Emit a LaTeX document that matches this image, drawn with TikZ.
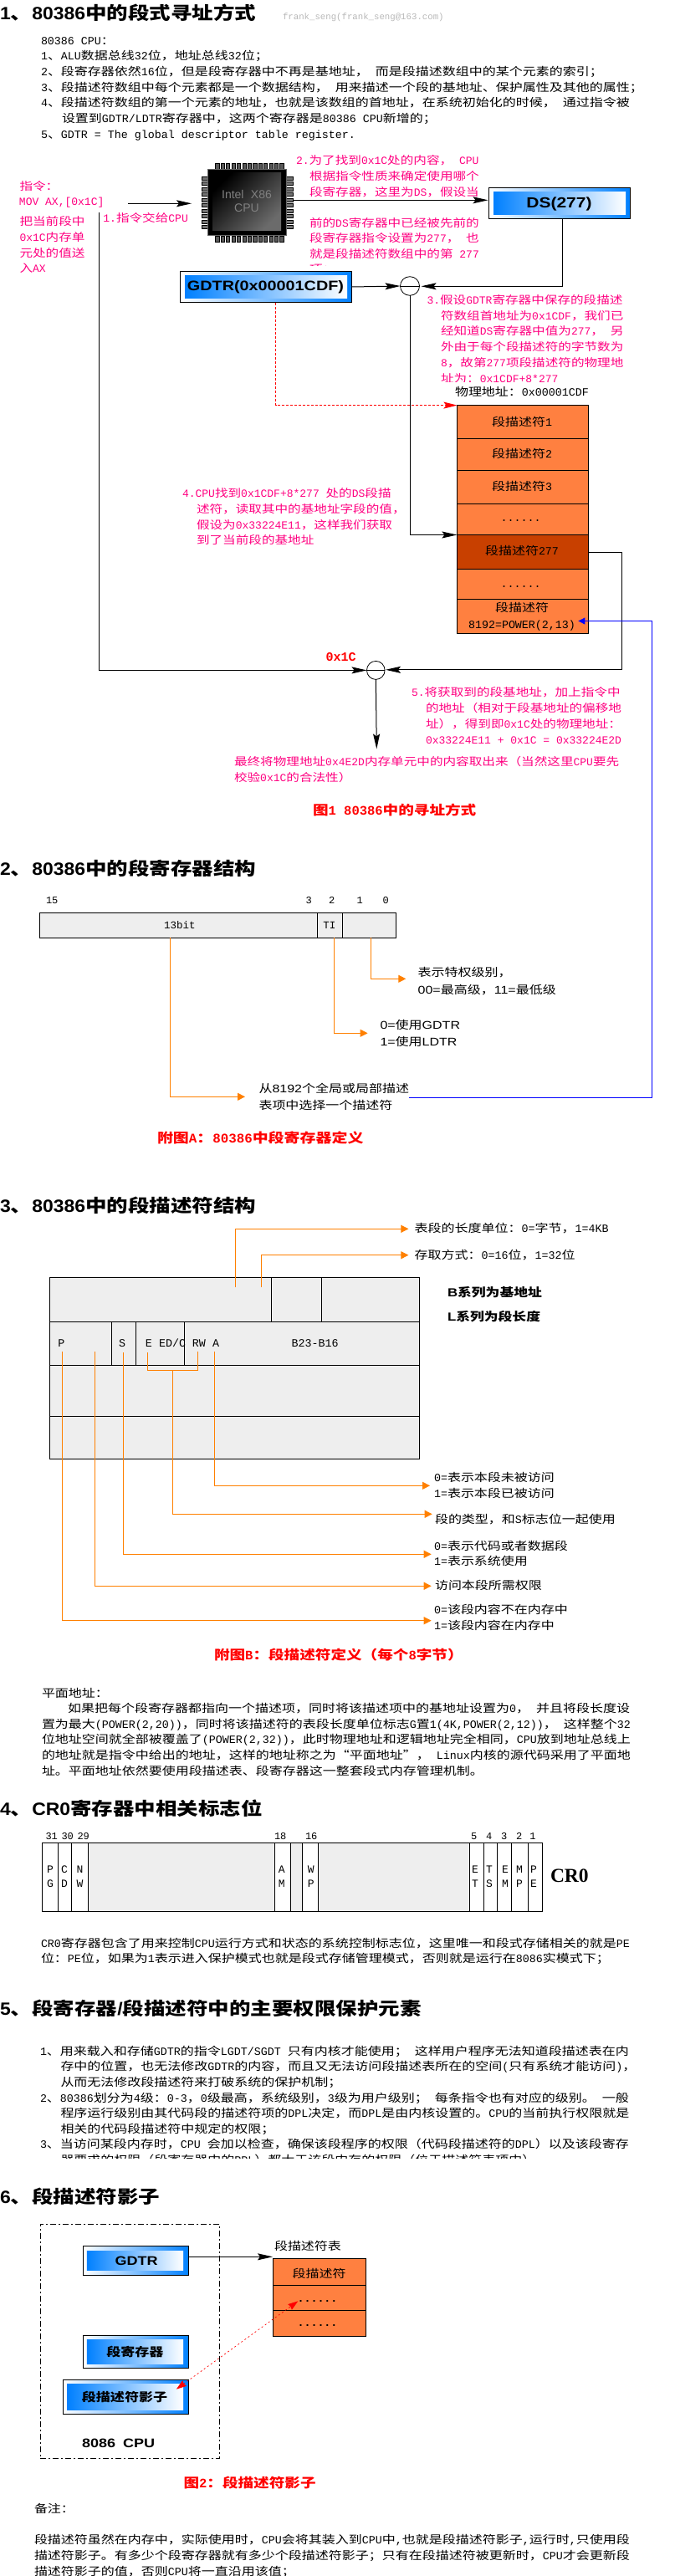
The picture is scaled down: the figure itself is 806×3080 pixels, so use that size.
\documentclass[tikz,border=0pt]{standalone}
\usepackage{fontspec}
\usepackage{graphicx}
\usetikzlibrary{arrows.meta,shapes.geometric}
\newfontfamily\cjkf[FakeStretch=1.2]{Noto Sans CJK SC}
\newfontfamily\monof{Liberation Mono}
\newfontfamily\arialf[FakeStretch=1.2]{Liberation Sans}
\newfontfamily\arialplain{Liberation Sans}
\newfontfamily\headlat[FakeStretch=1.08]{Liberation Sans}
\newfontfamily\timesf{Liberation Serif}
\let\latinf\monof
\newcount\cc
\cc="3000 \loop\ifnum\cc<"A000 \XeTeXcharclass\cc=9 \advance\cc 1 \repeat
\cc="FF00 \loop\ifnum\cc<"FFF0 \XeTeXcharclass\cc=9 \advance\cc 1 \repeat
\XeTeXcharclass"201C=9 \XeTeXcharclass"201D=9
\XeTeXinterchartoks 0 9={\cjkf}
\XeTeXinterchartoks 9 0={\latinf}
\XeTeXinterchartoks 4095 9={\cjkf}
\XeTeXinterchartoks 4095 0={\latinf}
\XeTeXinterchartokenstate=1
\newcommand\tf[1]{\fontsize{#1}{#1}\selectfont\spaceskip=0.6\dimexpr#1pt\relax\xspaceskip=\spaceskip}
\definecolor{pinkt}{HTML}{FF0080}
\definecolor{org}{HTML}{FF8040}
\definecolor{orgd}{HTML}{C84000}
\definecolor{orl}{HTML}{FF8000}
\definecolor{gry}{HTML}{EEEEEE}
\definecolor{blu}{HTML}{0080FF}
\tikzset{
 base/.style={anchor=base west,inner sep=0pt,outer sep=0pt},
 body/.style={base,font=\tf{13.33},text=black},
 hd/.style={base,font=\let\latinf\headlat\bfseries\tf{21.25},text=black},
 pk/.style={base,font=\tf{13},text=pinkt},
 captxt/.style={base,font=\bfseries\tf{15.5},text=red},
 ar/.style={base,font=\let\latinf\arialf\tf{13.33},text=black},
 ctr/.style={anchor=base},
 boxn/.style={draw=black,line width=1pt,inner sep=0pt,outer sep=0pt,anchor=north west},
 blk/.style={draw=black,line width=1pt,-{Stealth[length=18pt,width=8pt,inset=3pt]}},
 redd/.style={draw=red,line width=.9pt,dash pattern=on 3pt off 2pt,-{Stealth[length=16pt,width=8pt,inset=3pt,fill=red]}},
 ora/.style={draw=orl,line width=1pt,-{Triangle[length=9pt,width=9pt]}},
 orl0/.style={draw=orl,line width=1pt},
 blue0/.style={draw=blue,line width=.9pt,-{Triangle[length=8pt,width=8pt]}},
 circ/.style={draw=black,ellipse,line width=.8pt,inner sep=0pt,outer sep=0pt,fill=white},
}
% box by corners
\newcommand\bx[7]{\pgfmathsetmacro\bw{#4-#2}\pgfmathsetmacro\bh{#5-#3}%
 \node[boxn,minimum width=\bw pt,minimum height=\bh pt,#6] (#1) at (#2,#3) {#7};}
% gradient register box: name, outer corners, inner corners, font, text
\newcommand\gb[9]{\bx{#1}{#2}{#3}{#4}{#5}{left color=white,right color=blu}{}%
 \gbb{#1}{#6}{#7}{#8}{#9}}
\newcommand\gbb[5]{\pgfmathsetmacro\bw{#4-#2}\pgfmathsetmacro\bh{#5-#3}%
 \node[inner sep=0pt,outer sep=0pt,anchor=north west,left color=blu,right color=white,minimum width=\bw pt,minimum height=\bh pt] (#1i) at (#2,#3) {};}
\begin{document}
\begin{tikzpicture}[x=1pt,y=-1pt]
\useasboundingbox (0,0) rectangle (806,3080);
%% ---------- section 1 ----------
\node[hd] (h1) at (0,24) {1、80386中的段式寻址方式};
\node[base,font=\tf{10.7},text=black!28] (auth) at (338,23.5) {frank\_seng(frank\_seng@163.com)};
\node[body] (a0) at (49,53.5) {80386 CPU：};
\node[body] (a1) at (49,72) {1、ALU数据总线32位，地址总线32位；};
\node[body] (a2) at (49,90.7) {2、段寄存器依然16位，但是段寄存器中不再是基地址， 而是段描述数组中的某个元素的索引；};
\node[body] (a3) at (49,109.4) {3、段描述符数组中每个元素都是一个数据结构， 用来描述一个段的基地址、保护属性及其他的属性；};
\node[body] (a4) at (49,128) {4、段描述符数组的第一个元素的地址，也就是该数组的首地址，在系统初始化的时候， 通过指令被};
\node[body] (a5) at (74,146.8) {设置到GDTR/LDTR寄存器中，这两个寄存器是80386 CPU新增的；};
\node[body] (a6) at (49,165.5) {5、GDTR = The global descriptor table register.};
%% pink texts left
\node[pk] (p1) at (23.5,227) {指令：};
\node[pk] (p2) at (23,245) {MOV AX,[0x1C]};
\node[pk] (p3) at (23.5,269) {把当前段中};
\node[pk] (p4) at (23.5,288) {0x1C内存单};
\node[pk] (p5) at (23.5,307) {元处的值送};
\node[pk] (p6) at (23.5,325) {入AX};
\node[pk] (p7) at (123.4,265) {1.指令交给CPU};
%% CPU chip
\foreach \i in {0,...,12} {
 \draw[black,fill=black!65,line width=.5pt] ({257.7+\i*6.42},195) rectangle ({257.7+\i*6.42+4.2},202.3);
 \draw[black,fill=black!65,line width=.5pt] ({257.7+\i*6.42},282) rectangle ({257.7+\i*6.42+4.2},289.3);
}
\foreach \i in {0,...,9} {
 \draw[black,fill=black!55,line width=.5pt] (241,{211+\i*6.5}) rectangle (248.3,{211+\i*6.5+4.2});
 \draw[black,fill=black!55,line width=.5pt] (342.5,{211+\i*6.5}) rectangle (350.7,{211+\i*6.5+4.2});
}
\node[inner sep=0pt,outer sep=0pt,anchor=north west,minimum width=94pt,minimum height=79.5pt,fill=black,draw=black!60,line width=1pt] (cpu) at (248.3,202.3) {};
\path[left color=black,right color=black!58,shading angle=45] (254,207) rectangle (336,275);
\node[anchor=base,inner sep=0pt,font=\let\latinf\arialplain\tf{14},text=black!50] (cpu1) at (295,237.3) {Intel X86};
\node[anchor=base,inner sep=0pt,font=\let\latinf\arialplain\tf{14},text=black!50] (cpu2) at (295,253.3) {CPU};
\coordinate (cin) at (153,243.3);
\coordinate (cinb) at (229,243.3);
\draw[blk] (cin) -- (cinb);
%% DS, GDTR
\gb{ds}{584.3}{224.3}{753.3}{261.7}{590}{229}{748}{256}
\node[anchor=base,inner sep=0pt,font=\let\latinf\arialf\bfseries\tf{17.5}] (dst) at (668.5,248) {DS(277)};
\gb{gdtr}{215.4}{324.3}{420.5}{361.7}{221}{329}{415}{356}
\node[anchor=base,inner sep=0pt,font=\let\latinf\arialf\bfseries\tf{16.5}] (gdtrt) at (317.5,347.3) {GDTR(0x00001CDF)};
\coordinate (cout) at (350.7,239.3);
\coordinate (dsw) at (583.5,239.3);
\draw[blk] (cout) -- (dsw);
\node[circ,minimum width=23pt,minimum height=22.6pt] (c1) at (490,342) {};
\draw[black,line width=.8pt] (c1.west) -- (c1.east);
\draw[blk] (gdtr.east) -- (c1.west);
\coordinate (dsb) at (672.5,261.7);
\coordinate (c1r) at (503.5,342.3);
\draw[blk] (dsb) |- (c1r);
%% pink text 2
\node[pk] (p8) at (354,196.6) {2.为了找到0x1C处的内容， CPU};
\node[pk] (p9) at (370,215.3) {根据指令性质来确定使用哪个};
\node[pk] (p10) at (370,234) {段寄存器，这里为DS，假设当};
\node[pk] (p11) at (370,271.7) {前的DS寄存器中已经被先前的};
\node[pk] (p12) at (370,289.5) {段寄存器指令设置为277， 也};
\node[pk] (p13) at (370,308) {就是段描述符数组中的第 277};
\begin{scope}
\clip (360,312) rectangle (580,317);
\node[pk] (p14) at (370,326.7) {项；};
\end{scope}
%% pink text 3
\node[pk] (p15) at (510.5,363.3) {3.假设GDTR寄存器中保存的段描述};
\node[pk] (p16) at (527,382) {符数组首地址为0x1CDF，我们已};
\node[pk] (p17) at (527,400) {经知道DS寄存器中值为277， 另};
\node[pk] (p18) at (527,419) {外由于每个段描述符的字节数为};
\node[pk] (p19) at (527,438) {8，故第277项段描述符的物理地};
\begin{scope}
\clip (520,444) rectangle (760,456.6);
\node[pk] (p20) at (527,457) {址为：0x1CDF+8*277};
\end{scope}
\node[body] (phys) at (544,473.9) {物理地址：0x00001CDF};
%% table
\bx{r1}{546.4}{484.6}{703.7}{524.4}{fill=org}{}
\bx{r2}{546.4}{524.4}{703.7}{562.2}{fill=org}{}
\bx{r3}{546.4}{562.2}{703.7}{602.4}{fill=org}{}
\bx{r4}{546.4}{602.4}{703.7}{639.5}{fill=org}{}
\bx{r5}{546.4}{639.5}{703.7}{680.5}{fill=orgd}{}
\bx{r6}{546.4}{680.5}{703.7}{716.5}{fill=org}{}
\bx{r7}{546.4}{716.5}{703.7}{757.4}{fill=org}{}
\node[body,ctr] (rt1) at (624,509) {段描述符1};
\node[body,ctr] (rt2) at (624,547.3) {段描述符2};
\node[body,ctr] (rt3) at (624,586) {段描述符3};
\node[body,ctr] (rt4) at (622.5,623.8) {......};
\node[body,ctr] (rt5) at (624,663) {段描述符277};
\node[body,ctr] (rt6) at (622.5,702) {......};
\node[body,ctr] (rt7) at (624,731.8) {段描述符};
\node[body,ctr] (rt8) at (624,751) {8192=POWER(2,13)};
%% connectors to table
\coordinate (gs) at (329.5,361.7);
\draw[redd] (gs) |- (r1.north west);
\draw[blk] (c1.south) |- (r5.north west);
%% pink text 4
\node[pk] (p21) at (218,594.4) {4.CPU找到0x1CDF+8*277 处的DS段描};
\node[pk] (p22) at (235,613.5) {述符，读取其中的基地址字段的值，};
\node[pk] (p23) at (235,632) {假设为0x33224E11，这样我们获取};
\node[pk] (p24) at (235,650.6) {到了当前段的基地址};
%% adder 2
\node[circ,minimum width=21.6pt,minimum height=22pt] (c2) at (449.3,801.4) {};
\draw[black,line width=.8pt] (c2.west) -- (c2.east);
\coordinate (ll) at (118.7,254);
\coordinate (rb) at (743.4,800.8);
\draw[blk] (ll) |- (c2.west);
\draw[draw=black,line width=1pt] (r5.east) -| (rb);
\coordinate (c2r) at (461,800.8);
\draw[blk] (rb) -- (c2r);
\coordinate (cdown) at (450.3,895.5);
\draw[blk] (c2.south) -- (cdown);
\node[base,font=\bfseries\tf{15},text=red] (x1c) at (389.7,790.3) {0x1C};
%% pink text 5
\node[pk] (p25) at (492,832.4) {5.将获取到的段基地址，加上指令中};
\node[pk] (p26) at (509,851.5) {的地址（相对于段基地址的偏移地};
\node[pk] (p27) at (509,870) {址），得到即0x1C处的物理地址：};
\node[pk] (p28) at (509,889) {0x33224E11 + 0x1C = 0x33224E2D};
\node[pk] (p29) at (280,915.8) {最终将物理地址0x4E2D内存单元中的内容取出来（当然这里CPU要先};
\node[pk] (p30) at (280,934) {校验0x1C的合法性）};
\node[captxt] (cap1) at (374,974) {图1 80386中的寻址方式};
%% ---------- section 2 ----------
\node[hd] (h2) at (0,1046) {2、80386中的段寄存器结构};
\tikzset{bit/.style={base,font=\tf{12},text=black}}
\node[bit] (b15) at (55,1080) {15};
\node[bit] (b3) at (365.5,1080) {3};
\node[bit] (b2) at (393,1080) {2};
\node[bit] (b1) at (426.7,1080) {1};
\node[bit] (b0) at (457.6,1080) {0};
\bx{reg}{47.3}{1091.3}{473.5}{1121.3}{fill=gry}{}
\draw[black,line width=.8pt] (379.4,1091.3) -- (379.4,1121.3);
\draw[black,line width=.8pt] (409.7,1091.3) -- (409.7,1121.3);
\node[body,ctr,font=\tf{12.5}] (t13) at (215,1110.7) {13bit};
\node[body,ctr,font=\tf{12.5}] (tti) at (393.8,1110.7) {TI};
\coordinate (oa) at (443.7,1121.3); \coordinate (oat) at (485.3,1170.3);
\draw[ora] (oa) |- (oat);
\coordinate (ob) at (399.5,1121.3); \coordinate (obt) at (439.6,1235.3);
\draw[ora] (ob) |- (obt);
\coordinate (oc) at (203.6,1121.3); \coordinate (oct) at (293,1311.3);
\draw[ora] (oc) |- (oct);
\node[ar] (q1) at (499.7,1167.7) {表示特权级别，};
\node[ar] (q2) at (499.7,1188.3) {00=最高级，11=最低级};
\node[ar] (q3) at (454.5,1230) {0=使用GDTR};
\node[ar] (q4) at (454.5,1250) {1=使用LDTR};
\node[ar] (q5) at (309.5,1306) {从8192个全局或局部描述};
\node[ar] (q6) at (309.5,1326) {表项中选择一个描述符};
\coordinate (bs) at (489,1312.3);
\coordinate (bc) at (779.5,1312.3);
\coordinate (bt) at (691.4,742.5);
\draw[blue0] (bs) -- (bc) |- (bt);
\node[captxt,font=\bfseries\tf{15.8}] (cap2) at (188,1366.7) {附图A：80386中段寄存器定义};
%% ---------- section 3 ----------
\node[hd] (h3) at (0,1449) {3、80386中的段描述符结构};
\bx{d1}{59.6}{1527.3}{501.8}{1580.3}{fill=gry}{}
\bx{d2}{59.6}{1580.3}{501.8}{1632.3}{fill=gry}{}
\bx{d3}{59.6}{1632.3}{501.8}{1693.3}{fill=gry}{}
\bx{d4}{59.6}{1693.3}{501.8}{1744.3}{fill=gry}{}
\foreach \x in {324.4,384.6} \draw[black,line width=.8pt] (\x,1527.3) -- (\x,1580.3);
\foreach \x in {133.7,162.5,220.5} \draw[black,line width=.8pt] (\x,1580.3) -- (\x,1632.3);
\node[body] (dl1) at (69.4,1610) {P};
\node[body] (dl2) at (142,1610) {S};
\node[body] (dl3) at (173.8,1610) {E};
\node[body] (dl4) at (190.2,1610) {ED/C};
\node[body] (dl5) at (229.8,1610) {RW};
\node[body] (dl6) at (254,1610) {A};
\node[body] (dl7) at (348.6,1610) {B23-B16};
\coordinate (e1) at (281.8,1539.3); \coordinate (e1t) at (488.4,1469.3);
\draw[ora] (e1) |- (e1t);
\coordinate (e2) at (312.6,1539.3); \coordinate (e2t) at (488.4,1500.7);
\draw[ora] (e2) |- (e2t);
\node[body] (f1) at (495.6,1473.3) {表段的长度单位：0=字节，1=4KB};
\node[body] (f2) at (495.6,1505) {存取方式：0=16位，1=32位};
\node[ar,font=\let\latinf\arialf\bfseries\tf{14}] (f3) at (535,1550) {B系列为基地址};
\node[ar,font=\let\latinf\arialf\bfseries\tf{14}] (f4) at (535,1579) {L系列为段长度};
\coordinate (g1) at (256.6,1616); \coordinate (g1t) at (514,1776.3);
\draw[ora] (g1) |- (g1t);
\coordinate (g2a) at (176.3,1617); \coordinate (g2b) at (236.5,1616); \coordinate (g2c) at (206.7,1638.3); \coordinate (g2t) at (516.7,1810.3);
\draw[orl0] (g2a) |- (g2c) -| (g2b);
\draw[ora] (g2c) |- (g2t);
\coordinate (g3) at (147.6,1617); \coordinate (g3t) at (515.7,1858.3);
\draw[ora] (g3) |- (g3t);
\coordinate (g4) at (113.6,1616); \coordinate (g4t) at (515.7,1896.3);
\draw[ora] (g4) |- (g4t);
\coordinate (g5) at (74.5,1616); \coordinate (g5t) at (515.7,1937.7);
\draw[ora] (g5) |- (g5t);
\node[body] (k1) at (519,1771.7) {0=表示本段未被访问};
\node[body] (k2) at (519,1790.7) {1=表示本段已被访问};
\node[body] (k3) at (520,1821.7) {段的类型，和S标志位一起使用};
\node[body] (k4) at (519,1853.3) {0=表示代码或者数据段};
\node[body] (k5) at (519,1871.7) {1=表示系统使用};
\node[body] (k6) at (520,1900) {访问本段所需权限};
\node[body] (k7) at (519,1929.3) {0=该段内容不在内存中};
\node[body] (k8) at (519,1948.3) {1=该段内容在内存中};
\node[captxt] (cap3) at (256,1984) {附图B：段描述符定义（每个8字节）};
\node[body] (l1) at (50,2029) {平面地址：};
\node[body] (l2) at (81.2,2047.3) {如果把每个段寄存器都指向一个描述项，同时将该描述项中的基地址设置为0， 并且将段长度设};
\node[body] (l3) at (50,2066) {置为最大(POWER(2,20))，同时将该描述符的表段长度单位标志G置1(4K,POWER(2,12))， 这样整个32};
\node[body] (l4) at (50,2084.3) {位地址空间就全部被覆盖了(POWER(2,32))，此时物理地址和逻辑地址完全相同，CPU放到地址总线上};
\node[body] (l5) at (50,2103.3) {的地址就是指令中给出的地址，这样的地址称之为“平面地址”， Linux内核的源代码采用了平面地};
\node[body] (l6) at (50,2122.3) {址。平面地址依然要使用段描述表、段寄存器这一整套段式内存管理机制。};
%% ---------- section 4 ----------
\node[hd] (h4) at (0,2170) {4、CR0寄存器中相关标志位};
\node[bit] (n1) at (54.5,2199.3) {31};
\node[bit] (n2) at (73.5,2199.3) {30};
\node[bit] (n3) at (92.5,2199.3) {29};
\node[bit] (n4) at (328,2199.3) {18};
\node[bit] (n5) at (365,2199.3) {16};
\node[bit] (n6) at (563,2199.3) {5};
\node[bit] (n7) at (581,2199.3) {4};
\node[bit] (n8) at (599,2199.3) {3};
\node[bit] (n9) at (617,2199.3) {2};
\node[bit] (n10) at (633.4,2199.3) {1};
\bx{cr}{50.4}{2203.3}{648.9}{2285.3}{fill=white}{}
\fill[gry] (105.4,2203.8) rectangle (328.5,2284.8);
\fill[gry] (347.5,2203.8) rectangle (361.4,2284.8);
\fill[gry] (380.4,2203.8) rectangle (561.4,2284.8);
\foreach \x in {69.4,85.3,105.4,328.5,347.5,361.4,380.4,561.4,578.4,594.8,611.8,631.4}
 \draw[black,line width=.8pt] (\x,2203.3) -- (\x,2285.3);
\tikzset{crl/.style={body,ctr,font=\tf{13}}}
\foreach \nm/\x/\a/\b in {a/60/P/G,b/77/C/D,c/95.6/N/W,d/336.8/A/M,e/371.7/W/P,f/568/E/T,g/585/T/S,h/604/E/M,i/621/M/P,j/638/P/E} {
 \node[crl] (crt\nm) at (\x,2239) {\a};
 \node[crl] (crb\nm) at (\x,2256.7) {\b};
}
\node[base,font=\timesf\bfseries\fontsize{23.5}{23.5}\selectfont\let\latinf\timesf] (cr0) at (658,2250) {CR0};
\node[body] (m1) at (49,2328.3) {CR0寄存器包含了用来控制CPU运行方式和状态的系统控制标志位，这里唯一和段式存储相关的就是PE};
\node[body] (m2) at (49,2346.7) {位：PE位，如果为1表示进入保护模式也就是段式存储管理模式，否则就是运行在8086实模式下；};
%% ---------- section 5 ----------
\node[hd] (h5) at (0,2409) {5、段寄存器/段描述符中的主要权限保护元素};
\node[body] (o1) at (48,2457) {1、用来载入和存储GDTR的指令LGDT/SGDT 只有内核才能使用； 这样用户程序无法知道段描述表在内};
\node[body] (o2) at (72.5,2475) {存中的位置，也无法修改GDTR的内容，而且又无法访问段描述表所在的空间(只有系统才能访问)，};
\node[body] (o3) at (72.5,2494) {从而无法修改段描述符来打破系统的保护机制；};
\node[body] (o4) at (48,2513) {2、80386划分为4级：0-3，0级最高，系统级别，3级为用户级别； 每条指令也有对应的级别。 一般};
\node[body] (o5) at (72.5,2531.6) {程序运行级别由其代码段的描述符项的DPL决定，而DPL是由内核设置的。CPU的当前执行权限就是};
\node[body] (o6) at (72.5,2550.4) {相关的代码段描述符中规定的权限；};
\node[body] (o7) at (48,2568.5) {3、当访问某段内存时，CPU 会加以检查，确保该段程序的权限（代码段描述符的DPL）以及该段寄存};
\begin{scope}
\clip (60,2573) rectangle (760,2580.6);
\node[body] (o8) at (72.5,2587) {器要求的权限（段寄存器中的RPL）都大于该段内存的权限（位于描述符表项中）};
\end{scope}
%% ---------- section 6 ----------
\node[hd] (h6) at (0,2634) {6、段描述符影子};
\node[draw=black,line width=1pt,dash pattern=on 7pt off 3pt on 2pt off 3pt,inner sep=0pt,outer sep=0pt,anchor=north west,minimum width=214.4pt,minimum height=280.1pt] (cpub) at (48.3,2659.3) {};
\gb{sg}{99.7}{2685.4}{225.7}{2720}{103.8}{2691}{219}{2714}
\node[anchor=base,inner sep=0pt,font=\let\latinf\arialf\bfseries\tf{15}] (sgt) at (163,2708) {GDTR};
\gb{sr}{99.7}{2792.3}{225.7}{2831.3}{103.8}{2797.5}{219}{2826}
\node[anchor=base,inner sep=0pt,font=\bfseries\tf{14.2}] (srt) at (161.4,2817) {段寄存器};
\gb{ss}{75.6}{2845.3}{225.7}{2886.3}{80.2}{2850}{219}{2881}
\node[anchor=base,inner sep=0pt,font=\bfseries\tf{14.2}] (sst) at (149,2871) {段描述符影子};
\node[body] (st) at (328,2690.3) {段描述符表};
\bx{u1}{326.5}{2700.3}{437.5}{2732.4}{fill=org}{}
\bx{u2}{326.5}{2732.4}{437.5}{2762.6}{fill=org}{}
\bx{u3}{326.5}{2762.6}{437.5}{2793.5}{fill=org}{}
\node[body,ctr] (ut1) at (381.5,2723) {段描述符};
\node[body,ctr,font=\bfseries\tf{13.33}] (ut2) at (379.5,2752) {......};
\node[body,ctr,font=\bfseries\tf{13.33}] (ut3) at (379.5,2781) {......};
\coordinate (sga) at (225.7,2698.3);
\coordinate (uw) at (326,2698.3);
\draw[blk] (sga) -- (uw);
\coordinate (ssa) at (210.8,2856.6);
\coordinate (uta) at (356.3,2751.3);
\draw[draw=red,line width=.7pt,dash pattern=on 2pt off 3pt,{Stealth[length=12pt,width=8pt,inset=1pt,fill=red]}-{Stealth[length=12pt,width=8pt,inset=1pt,fill=red]}] (ssa) -- (uta);
\node[base,font=\let\latinf\arialf\bfseries\tf{15}] (cpul) at (98,2926) {8086 CPU};
\node[captxt] (cap4) at (219.5,2974.3) {图2：段描述符影子};
\node[body] (v1) at (41,3004.4) {备注：};
\node[body] (v2) at (41,3041.4) {段描述符虽然在内存中，实际使用时，CPU会将其装入到CPU中,也就是段描述符影子,运行时,只使用段};
\node[body] (v3) at (41,3060) {描述符影子。有多少个段寄存器就有多少个段描述符影子；只有在段描述符被更新时，CPU才会更新段};
\node[body] (v4) at (41,3079) {描述符影子的值，否则CPU将一直沿用该值；};
\end{tikzpicture}
\end{document}
